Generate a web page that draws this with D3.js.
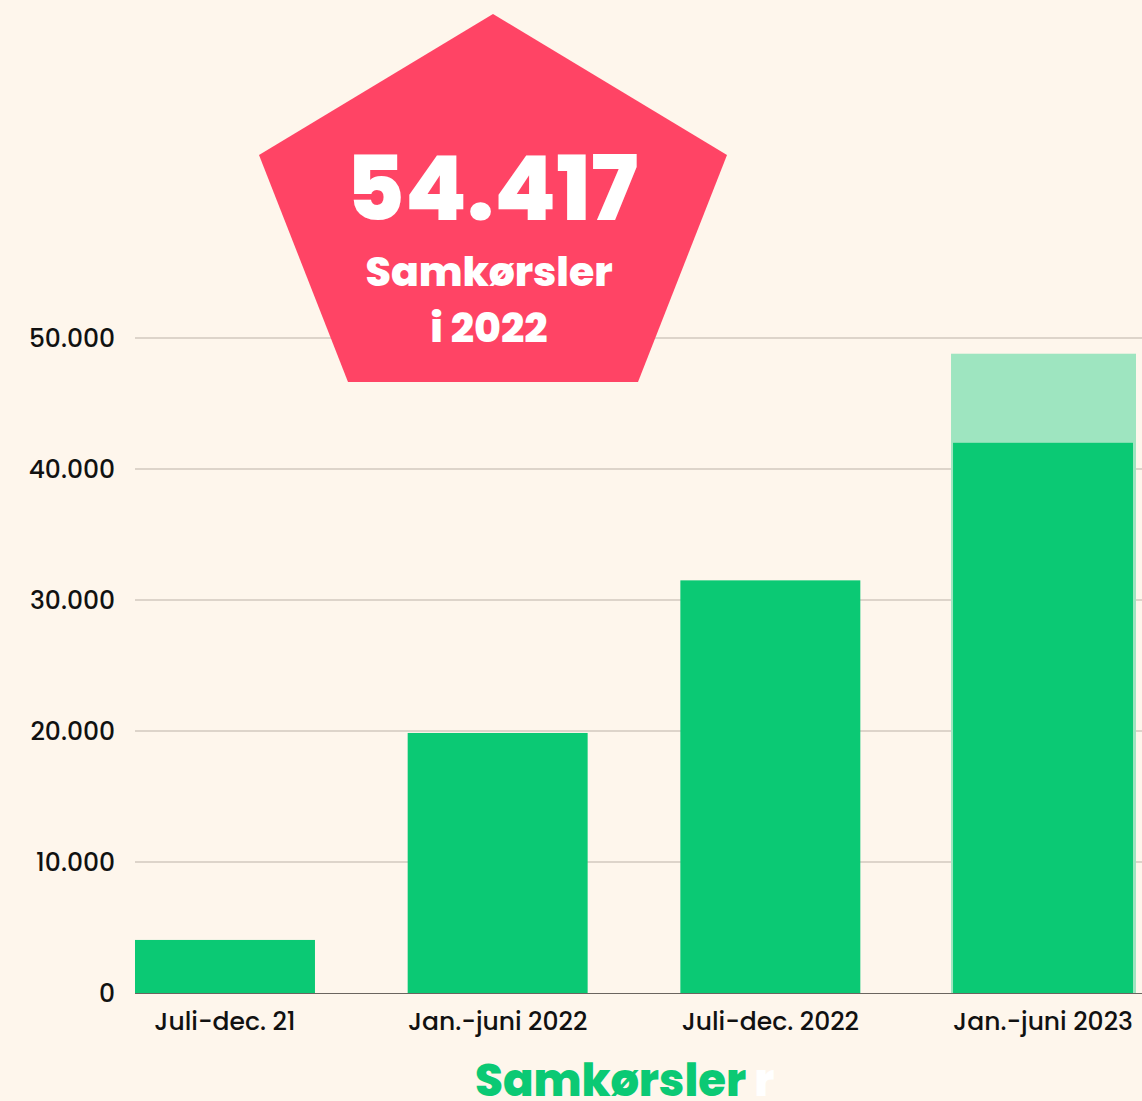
<!DOCTYPE html>
<html>
<head>
<meta charset="utf-8">
<script src="https://cdn.jsdelivr.net/npm/d3@7"></script>
<style>
  html, body { margin: 0; padding: 0; background: #fef6ec; }
  svg { display: block; }
</style>
</head>
<body>
<div id="chart"></div>
<script>
    // data
    const categories = ["Juli-dec. 21", "Jan.-juni 2022", "Juli-dec. 2022", "Jan.-juni 2023"];
    const values = [4050, 19850, 31500, 42000];
    const projected = [null, null, null, 48800];
    const yTicks = [0, 10000, 20000, 30000, 40000, 50000];
    const bigNumber = "54.417";
    const badgeLines = ["Samkørsler", "i 2022"];

    const width = 1142;
    const height = 1101;
    const margin = { left: 135, right: 9, top: 338, bottom: 108 };

    const fontFamily = "Poppins, Inter, 'Open Sans', sans-serif";
    const green = "#0bc974";
    const lightGreen = "#9ee5c0";
    const red = "#ff4465";

    const svg = d3.select("#chart").append("svg")
        .attr("width", width)
        .attr("height", height)
        .style("background", "#fef6ec");

    const x = d3.scaleBand()
        .domain(categories)
        .range([margin.left, width - margin.right])
        .paddingInner(0.34)
        .paddingOuter(0);

    const y = d3.scaleLinear()
        .domain([0, 50000])
        .range([height - margin.bottom, margin.top]);

    const fmt = d => d3.format(",")(d).replace(/,/g, ".");

    // gridlines
    svg.append("g")
        .selectAll("line")
        .data(yTicks.filter(d => d > 0))
        .join("line")
        .attr("x1", margin.left)
        .attr("x2", width)
        .attr("y1", d => y(d))
        .attr("y2", d => y(d))
        .attr("stroke", "#bcb2a8")
        .attr("stroke-width", 1);

    // y tick labels
    svg.append("g")
        .selectAll("text")
        .data(yTicks)
        .join("text")
        .attr("x", 115)
        .attr("y", d => y(d))
        .attr("dy", "0.36em")
        .attr("text-anchor", "end")
        .attr("font-family", fontFamily)
        .attr("font-weight", 500)
        .attr("font-size", 25)
        .attr("fill", "#111")
        .text(d => fmt(d));

    // projected (light) part behind
    svg.append("g")
        .selectAll("rect")
        .data(categories.map((c, i) => ({ c, v: projected[i] })).filter(d => d.v != null))
        .join("rect")
        .attr("x", d => x(d.c) - 2)
        .attr("width", x.bandwidth() + 5)
        .attr("y", d => y(d.v))
        .attr("height", d => y(0) - y(d.v))
        .attr("fill", lightGreen);

    // bars
    svg.append("g")
        .selectAll("rect")
        .data(categories.map((c, i) => ({ c, v: values[i] })))
        .join("rect")
        .attr("x", d => x(d.c))
        .attr("width", x.bandwidth())
        .attr("y", d => y(d.v))
        .attr("height", d => y(0) - y(d.v))
        .attr("fill", green);

    // baseline
    svg.append("line")
        .attr("x1", margin.left)
        .attr("x2", width)
        .attr("y1", y(0) + 0.5)
        .attr("y2", y(0) + 0.5)
        .attr("stroke", "#6b655f")
        .attr("stroke-width", 1);

    // category labels
    svg.append("g")
        .selectAll("text")
        .data(categories)
        .join("text")
        .attr("x", d => x(d) + x.bandwidth() / 2)
        .attr("y", 1030)
        .attr("text-anchor", "middle")
        .attr("font-family", fontFamily)
        .attr("font-weight", 500)
        .attr("font-size", 25)
        .attr("fill", "#111")
        .text(d => d);

    // pentagon badge
    const pent = [[493, 14], [727, 155], [638, 382], [348, 382], [259, 155]];
    svg.append("polygon")
        .attr("points", pent.map(p => p.join(",")).join(" "))
        .attr("fill", red);

    svg.append("text")
        .attr("x", 492)
        .attr("y", 220)
        .attr("text-anchor", "middle")
        .attr("font-family", fontFamily)
        .attr("font-weight", 800)
        .attr("font-size", 90)
        .attr("fill", "#fff")
        .text(bigNumber);

    svg.append("g")
        .selectAll("text")
        .data(badgeLines)
        .join("text")
        .attr("x", 489)
        .attr("y", (d, i) => 286 + i * 56)
        .attr("text-anchor", "middle")
        .attr("font-family", fontFamily)
        .attr("font-weight", 800)
        .attr("font-size", 41)
        .attr("fill", "#fff")
        .text(d => d);

    // footer
    const footer = svg.append("text")
        .attr("x", 475)
        .attr("y", 1096)
        .attr("font-family", fontFamily)
        .attr("font-weight", 800)
        .attr("font-size", 45);
    footer.append("tspan").attr("fill", green).text("Samkørsler");
    footer.append("tspan").attr("fill", "#fff").attr("dx", 8).text("r");
</script>
</body>
</html>
